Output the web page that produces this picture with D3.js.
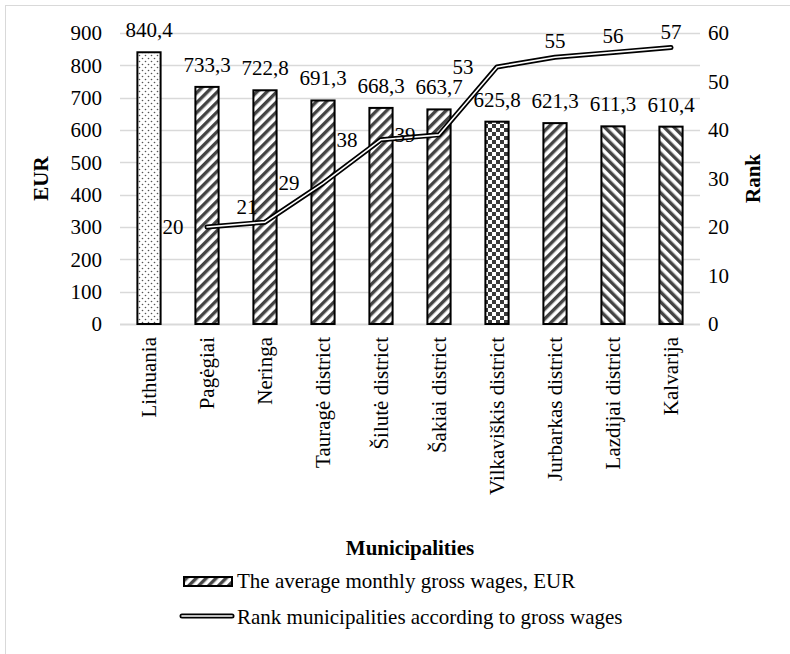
<!DOCTYPE html>
<html>
<head>
<meta charset="utf-8">
<script src="https://cdn.jsdelivr.net/npm/d3@7"></script>
</head>
<body style="margin:0">
<script>
const categories = ['Lithuania', 'Pagėgiai', 'Neringa', 'Tauragė district', 'Šilutė district',
  'Šakiai district', 'Vilkaviškis district', 'Jurbarkas district', 'Lazdijai district', 'Kalvarija'];
const wages = [840.4, 733.3, 722.8, 691.3, 668.3, 663.7, 625.8, 621.3, 611.3, 610.4];
const ranks = [null, 20, 21, 29, 38, 39, 53, 55, 56, 57];
const wageTicks = [0, 100, 200, 300, 400, 500, 600, 700, 800, 900];
const rankTicks = [0, 10, 20, 30, 40, 50, 60];
const fills = ['dots', 'up', 'up', 'up', 'up', 'up', 'checks', 'up', 'down', 'down'];
const rankLabelPos = [null, 'left', 'upleft', 'left', 'left', 'left', 'left', 'above', 'above', 'above'];

const chartSize = { width: 790, height: 654 };
const plot = { left: 120, right: 700, top: 33, bottom: 324 };
const fmt = v => String(v).replace('.', ',');

// serif text helper
const serif = (sel, bold) => {
  sel.attr('font-family', 'Liberation Serif')
    .style('font-family', '"Liberation Serif"')
    .style('font-size', '21px')
    .attr('fill', '#000');
  if (bold) sel.style('font-weight', 'bold');
  return sel;
};

const svg = d3.select('body').append('svg')
  .attr('width', chartSize.width)
  .attr('height', chartSize.height)
  .attr('font-family', 'Liberation Serif');

// patterns
const defs = svg.append('defs');
const stripes = (id, angle) => {
  const p = defs.append('pattern')
    .attr('id', id)
    .attr('patternUnits', 'userSpaceOnUse')
    .attr('width', 7).attr('height', 7)
    .attr('patternTransform', `rotate(${angle})`);
  p.append('rect').attr('width', 7).attr('height', 7).attr('fill', '#fff');
  p.append('rect').attr('width', 3.4).attr('height', 7).attr('fill', '#444');
};
stripes('up', 45);
stripes('down', -45);

const dots = defs.append('pattern')
  .attr('id', 'dots')
  .attr('patternUnits', 'userSpaceOnUse')
  .attr('width', 6).attr('height', 6);
dots.append('rect').attr('width', 6).attr('height', 6).attr('fill', '#fff');
dots.append('circle').attr('cx', 1.5).attr('cy', 1.5).attr('r', 0.8).attr('fill', '#555');
dots.append('circle').attr('cx', 4.5).attr('cy', 4.5).attr('r', 0.8).attr('fill', '#555');

const checks = defs.append('pattern')
  .attr('id', 'checks')
  .attr('patternUnits', 'userSpaceOnUse')
  .attr('width', 8).attr('height', 8);
checks.append('rect').attr('width', 8).attr('height', 8).attr('fill', '#fff');
checks.append('rect').attr('width', 4).attr('height', 4).attr('fill', '#3a3a3a');
checks.append('rect').attr('x', 4).attr('y', 4).attr('width', 4).attr('height', 4).attr('fill', '#3a3a3a');

// outer frame
svg.append('rect')
  .attr('x', 5.5).attr('y', 5.5)
  .attr('width', 800).attr('height', 700)
  .attr('fill', 'none').attr('stroke', '#d9d9d9');

const x = d3.scaleBand()
  .domain(categories)
  .range([plot.left, plot.right])
  .paddingInner(0.6)
  .paddingOuter(0.3);

const y = d3.scaleLinear().domain([0, 900]).range([plot.bottom, plot.top]);
const y2 = d3.scaleLinear().domain([0, 60]).range([plot.bottom, plot.top]);

// gridlines
svg.append('g')
  .selectAll('line')
  .data(wageTicks)
  .join('line')
  .attr('x1', plot.left).attr('x2', plot.right)
  .attr('y1', d => Math.round(y(d)) + 0.5).attr('y2', d => Math.round(y(d)) + 0.5)
  .attr('stroke', '#d9d9d9')
  .attr('stroke-width', d => d === 0 ? 2 : 1.3);

// left axis
const yAxis = svg.append('g')
  .attr('transform', `translate(${plot.left - 18},0)`)
  .call(d3.axisLeft(y).tickValues(wageTicks).tickSize(0).tickPadding(0));
yAxis.attr('font-family', 'Liberation Serif').attr('font-size', 21);
yAxis.select('.domain').remove();
serif(yAxis.selectAll('text'));

// right axis
const y2Axis = svg.append('g')
  .attr('transform', `translate(${plot.right + 8},0)`)
  .call(d3.axisRight(y2).tickValues(rankTicks).tickSize(0).tickPadding(0));
y2Axis.attr('font-family', 'Liberation Serif').attr('font-size', 21);
y2Axis.select('.domain').remove();
serif(y2Axis.selectAll('text'));

// bars
const rows = categories.map((c, i) => ({ c, w: wages[i], r: ranks[i], f: fills[i], pos: rankLabelPos[i] }));

svg.append('g')
  .selectAll('rect')
  .data(rows)
  .join('rect')
  .attr('x', d => x(d.c))
  .attr('y', d => y(d.w))
  .attr('width', x.bandwidth())
  .attr('height', d => y(0) - y(d.w))
  .attr('fill', d => `url(#${d.f})`)
  .attr('stroke', '#000')
  .attr('stroke-width', 2);

serif(svg.append('g')
  .selectAll('text')
  .data(rows)
  .join('text')
  .attr('x', d => x(d.c) + x.bandwidth() / 2)
  .attr('y', d => y(d.w) - 22)
  .attr('text-anchor', 'middle')
  .attr('dominant-baseline', 'central')
  .text(d => fmt(d.w)));

// rank line (double line)
const ranked = rows.filter(d => d.r !== null);
const line = d3.line()
  .x(d => x(d.c) + x.bandwidth() / 2)
  .y(d => y2(d.r));

svg.append('path')
  .datum(ranked)
  .attr('d', line)
  .attr('fill', 'none')
  .attr('stroke', '#000')
  .attr('stroke-width', 5)
  .attr('stroke-linejoin', 'round')
  .attr('stroke-linecap', 'round');
svg.append('path')
  .datum(ranked)
  .attr('d', line)
  .attr('fill', 'none')
  .attr('stroke', '#fff')
  .attr('stroke-width', 1.6)
  .attr('stroke-linejoin', 'round')
  .attr('stroke-linecap', 'round');

const labelOffset = {
  left: [-34, 0],
  upleft: [-18, -15],
  above: [0, -16]
};
serif(svg.append('g')
  .selectAll('text')
  .data(ranked)
  .join('text')
  .attr('x', d => x(d.c) + x.bandwidth() / 2 + labelOffset[d.pos][0])
  .attr('y', d => y2(d.r) + labelOffset[d.pos][1])
  .attr('text-anchor', 'middle')
  .attr('dominant-baseline', 'central')
  .text(d => d.r));

// category labels
serif(svg.append('g')
  .selectAll('text')
  .data(categories)
  .join('text')
  .attr('transform', d => `translate(${x(d) + x.bandwidth() / 2},${plot.bottom + 13}) rotate(-90)`)
  .attr('text-anchor', 'end')
  .attr('dominant-baseline', 'central')
  .text(d => d));

// axis titles
serif(svg.append('text')
  .attr('transform', `translate(41,${(plot.top + plot.bottom) / 2}) rotate(-90)`)
  .attr('text-anchor', 'middle')
  .attr('dominant-baseline', 'central')
  .text('EUR'), true);

serif(svg.append('text')
  .attr('transform', `translate(753,${(plot.top + plot.bottom) / 2}) rotate(-90)`)
  .attr('text-anchor', 'middle')
  .attr('dominant-baseline', 'central')
  .text('Rank'), true);

serif(svg.append('text')
  .attr('x', (plot.left + plot.right) / 2)
  .attr('y', 548)
  .attr('text-anchor', 'middle')
  .attr('dominant-baseline', 'central')
  .text('Municipalities'), true);

// legend
const legend = svg.append('g');
legend.append('rect')
  .attr('x', 184).attr('y', 577)
  .attr('width', 48).attr('height', 9)
  .attr('fill', 'url(#up)')
  .attr('stroke', '#000')
  .attr('stroke-width', 2);
serif(legend.append('text')
  .attr('x', 237).attr('y', 581)
  .attr('dominant-baseline', 'central')
  .text('The average monthly gross wages, EUR'));

legend.append('line')
  .attr('x1', 182).attr('x2', 232).attr('y1', 616).attr('y2', 616)
  .attr('stroke', '#000').attr('stroke-width', 5).attr('stroke-linecap', 'round');
legend.append('line')
  .attr('x1', 182).attr('x2', 232).attr('y1', 616).attr('y2', 616)
  .attr('stroke', '#fff').attr('stroke-width', 1.6).attr('stroke-linecap', 'round');
serif(legend.append('text')
  .attr('x', 237).attr('y', 617)
  .attr('dominant-baseline', 'central')
  .text('Rank municipalities according to gross wages'));
</script>
</body>
</html>
